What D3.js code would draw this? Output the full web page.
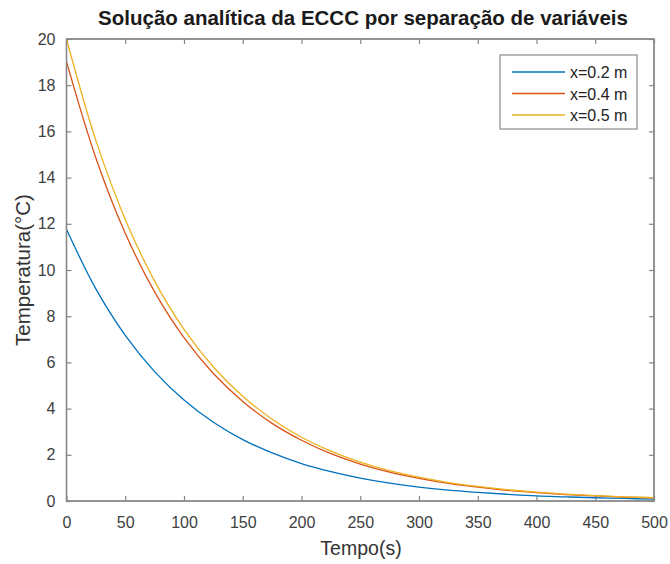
<!DOCTYPE html>
<html>
<head>
<meta charset="utf-8">
<script src="https://cdn.jsdelivr.net/npm/d3@7"></script>
<style>
  html, body { margin: 0; padding: 0; background: #fff; }
  svg { display: block; font-family: "Liberation Sans", Arial, Helvetica, sans-serif; }
</style>
</head>
<body>
<svg id="chart" width="670" height="564"></svg>
<script>
// Time samples (s)
const tempos = [0, 25, 50, 75, 100, 125, 150, 175, 200, 225, 250, 275, 300, 325, 350, 375, 400, 425, 450, 475, 500];

// Temperature (°C) at each position along the bar
const tX02 = [11.76, 9.18, 7.17, 5.60, 4.37, 3.41, 2.66, 2.08, 1.62, 1.27, 0.99, 0.77, 0.60, 0.47, 0.37, 0.29, 0.22, 0.18, 0.14, 0.11, 0.08];
const tX04 = [19.02, 14.85, 11.59, 9.05, 7.07, 5.52, 4.31, 3.36, 2.63, 2.05, 1.60, 1.25, 0.98, 0.76, 0.60, 0.46, 0.36, 0.28, 0.22, 0.17, 0.14];
const tX05 = [20.00, 15.61, 12.19, 9.52, 7.43, 5.80, 4.53, 3.54, 2.76, 2.16, 1.68, 1.31, 1.03, 0.80, 0.63, 0.49, 0.38, 0.30, 0.23, 0.18, 0.14];

const seriesNames = ["x=0.2 m", "x=0.4 m", "x=0.5 m"];
const seriesColors = ["#0072BD", "#D95319", "#EDB120"];
const xTicks = [0, 50, 100, 150, 200, 250, 300, 350, 400, 450, 500];
const yTicks = [0, 2, 4, 6, 8, 10, 12, 14, 16, 18, 20];

const titleText = "Solução analítica da ECCC por separação de variáveis";
const xLabel = "Tempo(s)";
const yLabel = "Temperatura(°C)";

const svg = d3.select("#chart");
const plot = { left: 66.5, right: 654, top: 39, bottom: 501 };

const x = d3.scaleLinear().domain([0, 500]).range([plot.left, plot.right]);
const y = d3.scaleLinear().domain([0, 20]).range([plot.bottom, plot.top]);

const axisColor = "#868686";
const textColor = "#404040";
const tickLen = 5;

// Box around the plotting area
svg.append("rect")
  .attr("x", plot.left).attr("y", plot.top)
  .attr("width", plot.right - plot.left).attr("height", plot.bottom - plot.top)
  .attr("fill", "#fff").attr("stroke", axisColor).attr("stroke-width", 1.3);

function styleAxis(g) {
  g.select(".domain").remove();
  g.selectAll(".tick line").attr("stroke", axisColor).attr("stroke-width", 1.2);
  g.selectAll(".tick text").attr("fill", textColor).style("font-size", "16px");
}

// Bottom axis with inward ticks
svg.append("g")
  .attr("transform", `translate(0,${plot.bottom})`)
  .call(d3.axisBottom(x).tickValues(xTicks).tickSize(-tickLen).tickPadding(16).tickFormat(d3.format("d")))
  .call(styleAxis);

// Top mirror ticks
svg.append("g")
  .attr("transform", `translate(0,${plot.top})`)
  .call(d3.axisTop(x).tickValues(xTicks).tickSize(-tickLen).tickFormat(""))
  .call(styleAxis);

// Left axis with inward ticks
svg.append("g")
  .attr("transform", `translate(${plot.left},0)`)
  .call(d3.axisLeft(y).tickValues(yTicks).tickSize(-tickLen).tickPadding(11).tickFormat(d3.format("d")))
  .call(styleAxis);

// Right mirror ticks
svg.append("g")
  .attr("transform", `translate(${plot.right},0)`)
  .call(d3.axisRight(y).tickValues(yTicks).tickSize(-tickLen).tickFormat(""))
  .call(styleAxis);

// Curves
const series = [tX02, tX04, tX05];
const line = d3.line()
  .x((d, i) => x(tempos[i]))
  .y(d => y(d))
  .curve(d3.curveCatmullRom.alpha(0.5));

svg.append("clipPath").attr("id", "plotClip")
  .append("rect")
  .attr("x", plot.left).attr("y", plot.top - 1)
  .attr("width", plot.right - plot.left).attr("height", plot.bottom - plot.top + 1);

const lines = svg.append("g").attr("clip-path", "url(#plotClip)");
series.forEach((vals, k) => {
  lines.append("path")
    .datum(vals)
    .attr("d", line)
    .attr("fill", "none")
    .attr("stroke", seriesColors[k])
    .attr("stroke-width", 1.3);
});

// Redraw the box edges on top of the curves
svg.append("rect")
  .attr("x", plot.left).attr("y", plot.top)
  .attr("width", plot.right - plot.left).attr("height", plot.bottom - plot.top)
  .attr("fill", "none").attr("stroke", axisColor).attr("stroke-width", 1.3);

// Title and axis labels
svg.append("text")
  .attr("x", 363).attr("y", 25)
  .attr("text-anchor", "middle")
  .attr("fill", "#1a1a1a")
  .style("font-size", "20.5px").style("font-weight", "bold")
  .text(titleText);

svg.append("text")
  .attr("x", 361).attr("y", 555)
  .attr("text-anchor", "middle")
  .attr("fill", "#333")
  .style("font-size", "19.5px")
  .text(xLabel);

svg.append("text")
  .attr("transform", `translate(30,${(plot.top + plot.bottom) / 2}) rotate(-90)`)
  .attr("text-anchor", "middle")
  .attr("fill", "#333")
  .style("font-size", "20.5px")
  .text(yLabel);

// Legend
const legend = svg.append("g");
legend.append("rect")
  .attr("x", 500).attr("y", 55)
  .attr("width", 137).attr("height", 74)
  .attr("fill", "#fff").attr("stroke", "#8a8a8a").attr("stroke-width", 1.2);

seriesNames.forEach((name, k) => {
  const ly = 72 + k * 21.5;
  legend.append("line")
    .attr("x1", 512).attr("x2", 565)
    .attr("y1", ly).attr("y2", ly)
    .attr("stroke", seriesColors[k]).attr("stroke-width", 1.3);
  legend.append("text")
    .attr("x", 570).attr("y", ly + 6)
    .attr("fill", "#222")
    .style("font-size", "16px")
    .text(name);
});
</script>
</body>
</html>
